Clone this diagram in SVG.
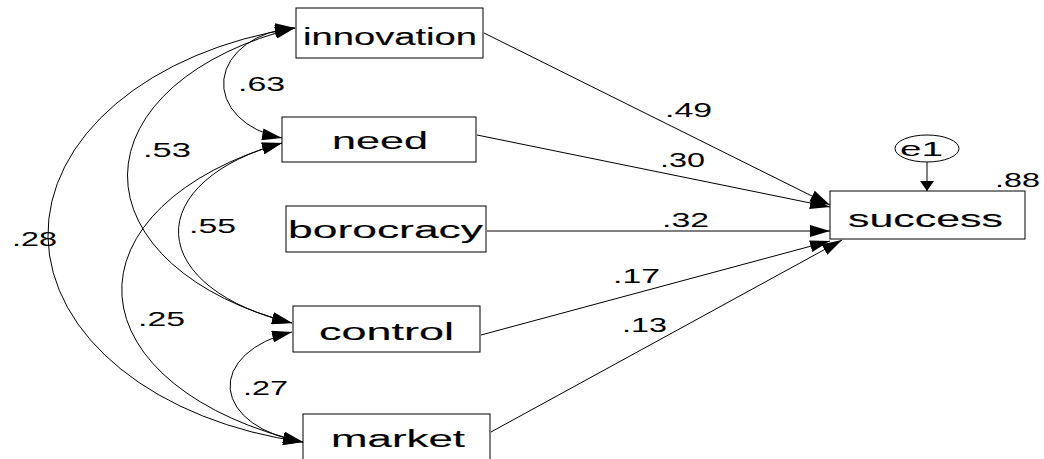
<svg xmlns="http://www.w3.org/2000/svg" width="1044" height="459" viewBox="0 0 1044 459">
<style>
.box{fill:#fff;stroke:#000;stroke-width:1}
.lbl{font-family:"Liberation Sans",Arial,sans-serif;font-size:23px;fill:#000;stroke:#000;stroke-width:0.12}
.num{font-family:"Liberation Sans",Arial,sans-serif;font-size:20px;fill:#000}
.ln{fill:none;stroke:#000;stroke-width:1}
.arr{marker-end:url(#ah)}
.cov{marker-start:url(#ah);marker-end:url(#ah)}
</style>
<defs>
<marker id="ah" markerUnits="userSpaceOnUse" viewBox="0 0 20 12" markerWidth="20" markerHeight="12" refX="20" refY="6" orient="auto-start-reverse">
<path d="M0,0 L20,6 L0,12 z" fill="#000"/>
</marker>
<marker id="av" markerUnits="userSpaceOnUse" viewBox="0 0 10 14" markerWidth="10" markerHeight="14" refX="10" refY="7" orient="auto">
<path d="M0,0 L10,7 L0,14 z" fill="#000"/>
</marker>
</defs>
<rect width="1044" height="459" fill="#fff"/>
<g id="connectors">
<path class="ln cov" d="M295,28 A78,56 0 0,0 282,138"/>
<path class="ln cov" d="M295,28 A271,160 0 0,0 292,323"/>
<path class="ln cov" d="M295,28 A320,212 0 0,0 303,442"/>
<path class="ln cov" d="M282,143 A192,100 0 0,0 292,323"/>
<path class="ln cov" d="M282,143 A295,165 0 0,0 303,442"/>
<path class="ln cov" d="M292,332 A98,58 0 0,0 303,442"/>
<line class="ln arr" x1="484" y1="33" x2="830" y2="205"/>
<line class="ln arr" x1="477" y1="135" x2="830" y2="207"/>
<line class="ln arr" x1="487" y1="231" x2="830" y2="231"/>
<line class="ln arr" x1="481" y1="335" x2="830" y2="241"/>
<line class="ln arr" x1="491" y1="432" x2="842" y2="240"/>
<line class="ln" x1="927" y1="162" x2="927" y2="191" marker-end="url(#av)"/>
<text class="num" x="238" y="91" textLength="47" lengthAdjust="spacingAndGlyphs">.63</text>
<text class="num" x="143" y="157" textLength="48" lengthAdjust="spacingAndGlyphs">.53</text>
<text class="num" x="189" y="233" textLength="47" lengthAdjust="spacingAndGlyphs">.55</text>
<text class="num" x="12" y="246" textLength="45" lengthAdjust="spacingAndGlyphs">.28</text>
<text class="num" x="138" y="326" textLength="47" lengthAdjust="spacingAndGlyphs">.25</text>
<text class="num" x="243" y="395" textLength="45" lengthAdjust="spacingAndGlyphs">.27</text>
<text class="num" x="665" y="117" textLength="47" lengthAdjust="spacingAndGlyphs">.49</text>
<text class="num" x="660" y="167" textLength="45" lengthAdjust="spacingAndGlyphs">.30</text>
<text class="num" x="662" y="227" textLength="47" lengthAdjust="spacingAndGlyphs">.32</text>
<text class="num" x="613" y="283" textLength="47" lengthAdjust="spacingAndGlyphs">.17</text>
<text class="num" x="622" y="332" textLength="45" lengthAdjust="spacingAndGlyphs">.13</text>
</g>
<g id="innovation"><rect class="box" x="296" y="8" width="187" height="50"/><text class="lbl" x="303" y="45" textLength="174" lengthAdjust="spacingAndGlyphs">innovation</text></g>
<g id="need"><rect class="box" x="282" y="117" width="194" height="45"/><text class="lbl" x="332" y="149" textLength="96" lengthAdjust="spacingAndGlyphs">need</text></g>
<g id="borocracy"><rect class="box" x="286" y="206" width="200" height="46"/><text class="lbl" x="288" y="238" textLength="195" lengthAdjust="spacingAndGlyphs">borocracy</text></g>
<g id="control"><rect class="box" x="293" y="306" width="187" height="46"/><text class="lbl" x="319" y="340" textLength="135" lengthAdjust="spacingAndGlyphs">control</text></g>
<g id="market"><rect class="box" x="303" y="414" width="187" height="50"/><text class="lbl" x="331" y="447" textLength="134" lengthAdjust="spacingAndGlyphs">market</text></g>
<g id="success"><rect class="box" x="830" y="191" width="195" height="48"/><text class="lbl" x="848" y="227" textLength="155" lengthAdjust="spacingAndGlyphs">success</text><text class="num" x="995" y="187" textLength="45" lengthAdjust="spacingAndGlyphs">.88</text></g>
<g id="e1"><ellipse cx="927" cy="148.5" rx="32" ry="13.5" fill="#fff" stroke="#000" stroke-width="1"/><text class="num" x="900" y="156" font-size="21" textLength="43" lengthAdjust="spacingAndGlyphs">e1</text></g>
</svg>
